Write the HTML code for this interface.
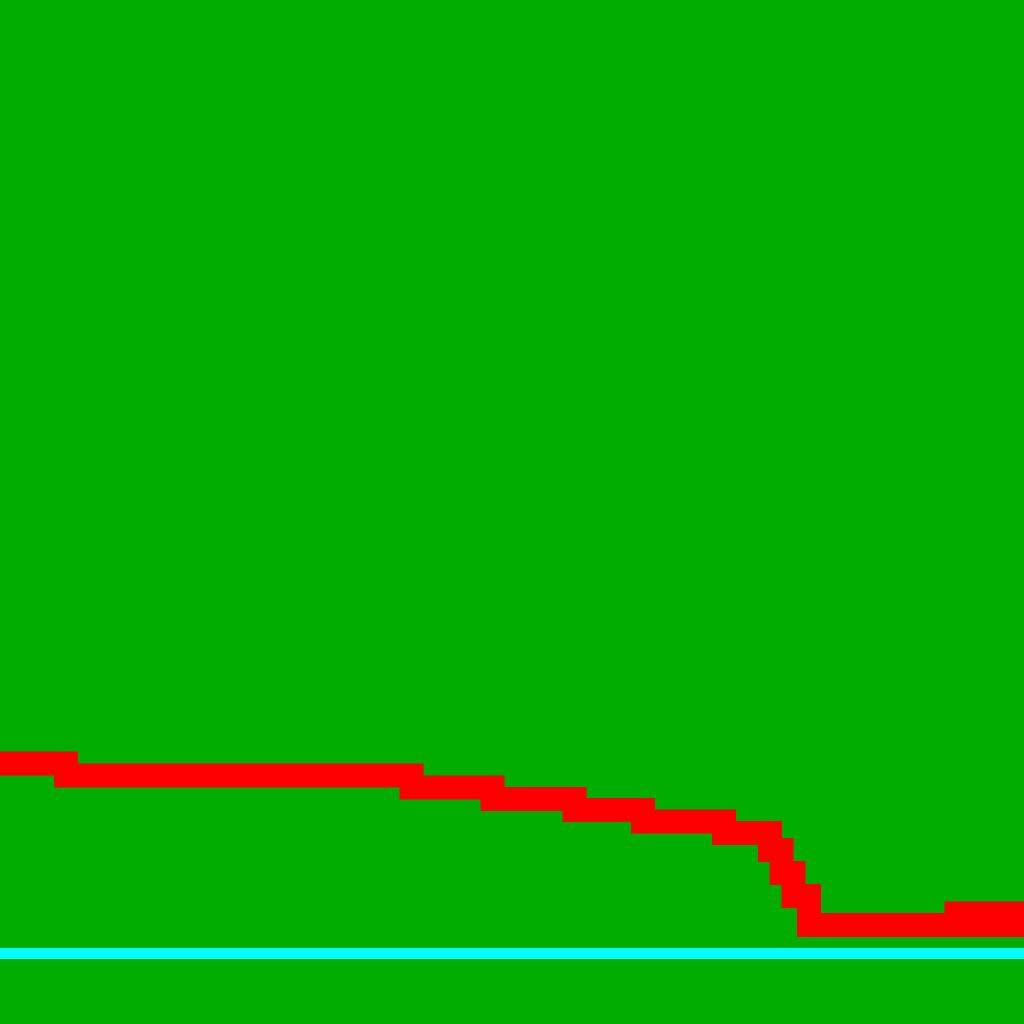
<!DOCTYPE html>
<html><head><meta charset="utf-8"><style>
html,body{margin:0;padding:0;background:#00ad00;}
svg{display:block;}
</style></head><body>
<svg id="chart" width="1024" height="1024" viewBox="0 0 1024 1024" xmlns="http://www.w3.org/2000/svg">
<rect x="0" y="0" width="1024" height="1024" fill="#00ad00"/>
</svg>
<script>
const xValues = [0,6.45,40.2,48.1,56.1,62.8,70.7,75.2,76.3,77.5,79.0,93.4];
const yValues = [19.94,18.68,17.42,16.21,15.06,13.85,12.64,10.86,8.45,6.03,2.99,4.20];
const xEnd = [100];
const tailX = [79.0, 100];
const tailY = [2.99, 2.99];
const baselineValue = [0];
function xScale(v){return v*10.24;}
function yScale(v){return 953.5 - v*9.53;}
const svg = document.getElementById('chart');
const NS = 'http://www.w3.org/2000/svg';
const base = document.createElementNS(NS,'line');


base.setAttribute('x1', xScale(0)); base.setAttribute('x2', xScale(100));
base.setAttribute('y1', yScale(baselineValue[0])); base.setAttribute('y2', yScale(baselineValue[0]));
base.setAttribute('stroke', '#00ffff'); base.setAttribute('stroke-width', '11');
svg.appendChild(base);
let d = 'M' + xScale(xValues[0]) + ',' + yScale(yValues[0]);
for (let i = 1; i < xValues.length; i++) {
  d += ' H' + xScale(xValues[i]) + ' V' + yScale(yValues[i]);
}
d += ' H' + xScale(xEnd[0]);
d += ' M' + xScale(tailX[0]) + ',' + yScale(tailY[0]) + ' L' + xScale(tailX[1]) + ',' + yScale(tailY[1]);
const line = document.createElementNS(NS,'path');


line.setAttribute('d', d);
line.setAttribute('fill', 'none'); line.setAttribute('stroke', '#ff0000');
line.setAttribute('stroke-width', '24'); line.setAttribute('stroke-linejoin', 'miter');
line.setAttribute('stroke-linecap', 'square');
line.setAttribute('shape-rendering', 'crispEdges');
svg.appendChild(line);
</script>
</body></html>
